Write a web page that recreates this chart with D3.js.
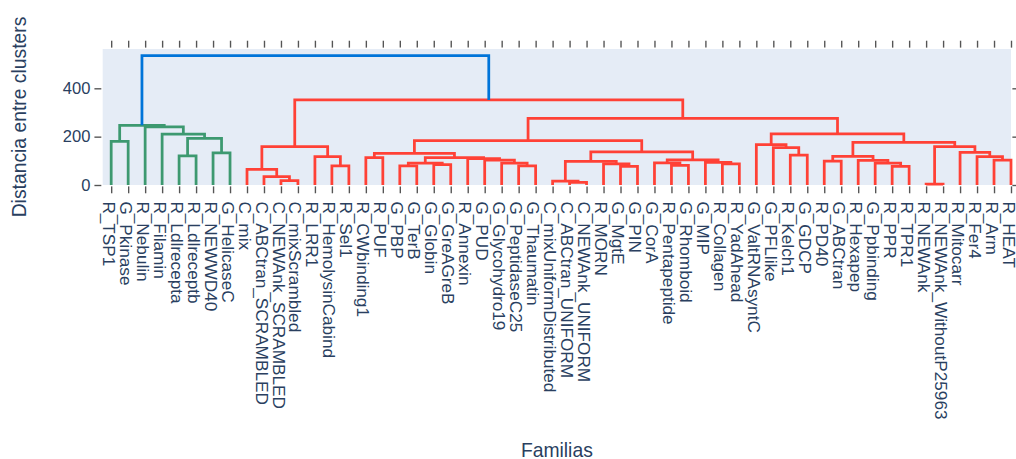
<!DOCTYPE html>
<html>
<head>
<meta charset="utf-8">
<script src="https://cdn.jsdelivr.net/npm/d3@7"></script>
<style>
  body { margin: 0; background: #fff; }
  svg { display: block; }
  text { font-family: "Liberation Sans", Arial, sans-serif; fill: #2a3f5f; }
</style>
</head>
<body>
<svg id="chart" width="1016" height="459"></svg>
<script>
// Leaf order along the x axis
const leaves = [
  "R_TSP1", "G_Pkinase", "R_Nebulin", "R_Filamin", "R_Ldlrecepta", "R_Ldlreceptb",
  "R_NEWWD40", "G_HelicaseC", "C_mix", "C_ABCtran_SCRAMBLED", "C_NEWAnk_SCRAMBLED",
  "C_mixScrambled", "R_LRR1", "R_HemolysinCabind", "R_Sel1", "R_CWbinding1", "R_PUF",
  "G_PBP", "G_TerB", "G_Globin", "G_GreAGreB", "R_Annexin", "G_PUD", "G_Glycohydro19",
  "G_PeptidaseC25", "G_Thaumatin", "C_mixUniformDistributed", "C_ABCtran_UNIFORM",
  "C_NEWAnk_UNIFORM", "R_MORN", "G_MgtE", "G_PIN", "G_CorA", "R_Pentapeptide",
  "G_Rhomboid", "G_MIP", "R_Collagen", "R_YadAhead", "G_ValtRNAsyntC", "G_PFLlike",
  "R_Kelch1", "G_GDCP", "R_PD40", "G_ABCtran", "R_Hexapep", "G_Ppbinding", "R_PPR",
  "R_TPR1", "R_NEWAnk", "R_NEWAnk_WithoutP25963", "R_Mitocarr", "R_Fer4", "R_Arm", "R_HEAT"
];

// Merge steps: [left, right, distance]; a string is a leaf, a number is an earlier merge
const merges = [
  ["R_TSP1", "G_Pkinase", 180],                 // 0
  ["R_Ldlrecepta", "R_Ldlreceptb", 120],        // 1
  ["R_NEWWD40", "G_HelicaseC", 133],            // 2
  [1, 2, 193],                                  // 3
  ["R_Filamin", 3, 210],                        // 4
  ["R_Nebulin", 4, 240],                        // 5
  [0, 5, 247],                                  // 6
  ["C_NEWAnk_SCRAMBLED", "C_mixScrambled", 18], // 7
  ["C_ABCtran_SCRAMBLED", 7, 35],               // 8
  ["C_mix", 8, 65],                             // 9
  ["R_HemolysinCabind", "R_Sel1", 79],          // 10
  ["R_LRR1", 10, 117],                          // 11
  [9, 11, 159],                                 // 12
  ["R_CWbinding1", "R_PUF", 113],               // 13
  ["G_PBP", "G_TerB", 79],                      // 14
  ["G_Globin", "G_GreAGreB", 84],               // 15
  [14, 15, 90],                                 // 16
  ["G_PeptidaseC25", "G_Thaumatin", 79],        // 17
  ["G_Glycohydro19", 17, 90],                   // 18
  ["G_PUD", 18, 103],                           // 19
  ["R_Annexin", 19, 109],                       // 20
  [16, 20, 113],                                // 21
  [13, 21, 131],                                // 22
  ["C_ABCtran_UNIFORM", "C_NEWAnk_UNIFORM", 11],// 23
  ["C_mixUniformDistributed", 23, 16],          // 24
  ["G_MgtE", "G_PIN", 77],                      // 25
  ["R_MORN", 25, 87],                           // 26
  [24, 26, 98],                                 // 27
  ["R_Pentapeptide", "G_Rhomboid", 81],         // 28
  ["G_CorA", 28, 92],                           // 29
  ["R_Collagen", "R_YadAhead", 87],             // 30
  ["G_MIP", 30, 94],                            // 31
  [29, 31, 104],                                // 32
  [27, 32, 137],                                // 33
  [22, 33, 184],                                // 34
  ["R_Kelch1", "G_GDCP", 124],                  // 35
  ["G_PFLlike", 35, 155],                       // 36
  ["G_ValtRNAsyntC", 36, 167],                  // 37
  ["R_PD40", "G_ABCtran", 99],                  // 38
  ["R_PPR", "R_TPR1", 77],                      // 39
  ["G_Ppbinding", 39, 90],                      // 40
  ["R_Hexapep", 40, 102],                       // 41
  [38, 41, 118],                                // 42
  ["R_NEWAnk", "R_NEWAnk_WithoutP25963", 4],    // 43
  ["R_Arm", "R_HEAT", 103],                     // 44
  ["R_Fer4", 44, 117],                          // 45
  ["R_Mitocarr", 45, 135],                      // 46
  [43, 46, 159],                                // 47
  [42, 47, 176],                                // 48
  [37, 48, 211],                                // 49
  [34, 49, 276],                                // 50
  [12, 50, 352],                                // 51
  [6, 51, 535]                                  // 52
];

const yTickValues = [0, 200, 400];
const clusterColors = ["rgb(61,153,112)", "rgb(255,65,54)"];
const aboveThresholdColor = "rgb(0,116,217)";
const colorThreshold = 0.7 * d3.max(merges, d => d[2]);
const xTitle = "Familias";
const yTitle = "Distancia entre clusters";

// Layout
const plot = { left: 102.7, right: 1011, top: 49, bottom: 185 };
const S = 1.38;               // overall scale of strokes and type
const tickLen = 5 * S, tickW = 1 * S, lineOffset = 1 * S;

const leafX = name => 5 + 10 * leaves.indexOf(name);
const xMax = 10 * leaves.length - 5;
const yMax = d3.max(merges, d => d[2]) * 1.0516;

const x = d3.scaleLinear().domain([0, xMax]).range([plot.left, plot.right]);
const y = d3.scaleLinear().domain([0, yMax]).range([plot.bottom, plot.top]);

const svg = d3.select("#chart");

svg.append("rect")
  .attr("x", plot.left).attr("y", plot.top)
  .attr("width", plot.right - plot.left).attr("height", plot.bottom - plot.top)
  .attr("fill", "#E5ECF6");

// Position and height of every node
const pos = ref => typeof ref === "string" ? leafX(ref) : mergeX[ref];
const hgt = ref => typeof ref === "string" ? 0 : merges[ref][2];
const mergeX = [];
merges.forEach((m, i) => { mergeX[i] = (pos(m[0]) + pos(m[1])) / 2; });

// Colour clusters from the root down, left to right
const mergeColor = [];
let nextCluster = 0;
function paint(idx, inherited) {
  const m = merges[idx];
  let c;
  if (m[2] > colorThreshold) c = aboveThresholdColor;
  else c = inherited || clusterColors[nextCluster++ % clusterColors.length];
  mergeColor[idx] = c;
  const pass = c === aboveThresholdColor ? null : c;
  [m[0], m[1]].forEach(ch => { if (typeof ch === "number") paint(ch, pass); });
}
paint(merges.length - 1, null);

const links = svg.append("g").attr("fill", "none")
  .attr("stroke-width", 2 * S).attr("stroke-linejoin", "miter");

merges.forEach((m, i) => {
  const [a, b, h] = m;
  const p = d3.path();
  p.moveTo(x(pos(a)), y(hgt(a)));
  p.lineTo(x(pos(a)), y(h));
  p.lineTo(x(pos(b)), y(h));
  p.lineTo(x(pos(b)), y(hgt(b)));
  links.append("path").attr("d", p.toString()).attr("stroke", mergeColor[i]);
});

// Axes
const leafPositions = leaves.map((_, i) => 5 + 10 * i);
const tickColor = "#555";

function styleAxis(g) {
  g.select(".domain").remove();
  g.selectAll(".tick line").attr("stroke", tickColor).attr("stroke-width", tickW);
  g.attr("font-family", null);
}

const xBottom = svg.append("g")
  .attr("transform", `translate(0,${plot.bottom + lineOffset})`)
  .call(d3.axisBottom(x).tickValues(leafPositions).tickSize(tickLen)
    .tickFormat((d, i) => leaves[i]))
  .call(styleAxis);
xBottom.selectAll(".tick text")
  .attr("font-size", 17.2)
  .attr("fill", "#2a3f5f")
  .attr("text-anchor", "start")
  .attr("transform", "rotate(90)")
  .attr("x", 15)
  .attr("y", 0)
  .attr("dy", "0.52em");

svg.append("g")
  .attr("transform", `translate(0,${plot.top - lineOffset})`)
  .call(d3.axisTop(x).tickValues(leafPositions).tickSize(tickLen).tickFormat(""))
  .call(styleAxis);

const yLeft = svg.append("g")
  .attr("transform", `translate(${plot.left - lineOffset},0)`)
  .call(d3.axisLeft(y).tickValues(yTickValues).tickSize(tickLen).tickPadding(4))
  .call(styleAxis);
yLeft.selectAll(".tick text")
  .attr("font-size", 12 * S).attr("fill", "#2a3f5f");

svg.append("g")
  .attr("transform", `translate(${plot.right + lineOffset},0)`)
  .call(d3.axisRight(y).tickValues(yTickValues).tickSize(tickLen).tickFormat(""))
  .call(styleAxis);

// Titles
svg.append("text")
  .attr("x", (plot.left + plot.right) / 2).attr("y", 456.5)
  .attr("text-anchor", "middle")
  .attr("font-size", 14 * S)
  .text(xTitle);

svg.append("text")
  .attr("transform", `translate(25.5,${(plot.top + plot.bottom) / 2}) rotate(-90)`)
  .attr("text-anchor", "middle")
  .attr("font-size", 14 * S)
  .text(yTitle);
</script>
</body>
</html>
